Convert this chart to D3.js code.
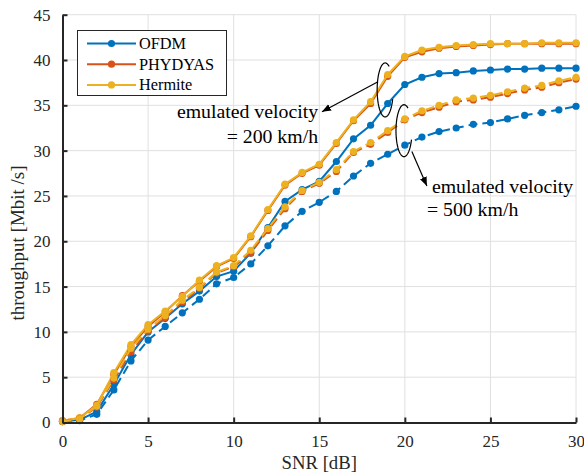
<!DOCTYPE html>
<html>
<head>
<meta charset="utf-8">
<script src="https://cdn.jsdelivr.net/npm/d3@7"></script>
<style>
  body { margin: 0; background: #fff; }
  svg { display: block; font-family: "Liberation Serif", "Times New Roman", serif; }
</style>
</head>
<body>
<div id="container"></div>
<script>
// SNR values [dB]
const snr = [0,1,2,3,4,5,6,7,8,9,10,11,12,13,14,15,16,17,18,19,20,21,22,23,24,25,26,27,28,29,30];

// throughput [Mbit/s], emulated velocity 200 km/h
const ofdm200     = [0.1,0.3,1.2,4.2,7.5,10.0,11.5,13.1,14.5,16.1,16.7,18.7,21.5,24.4,25.7,26.6,28.8,31.3,32.8,35.2,37.3,38.1,38.5,38.6,38.8,38.9,39.0,39.0,39.1,39.1,39.1];
const phydyas200  = [0.2,0.5,2.0,5.3,8.4,10.6,12.2,14.0,15.6,17.2,18.1,20.5,23.4,26.2,27.5,28.4,30.8,33.3,35.2,38.2,40.3,40.9,41.3,41.5,41.6,41.7,41.8,41.8,41.8,41.8,41.8];
const hermite200  = [0.2,0.5,1.9,5.5,8.6,10.8,12.3,13.9,15.7,17.3,18.2,20.6,23.5,26.3,27.6,28.5,30.9,33.4,35.4,38.4,40.4,41.1,41.4,41.6,41.7,41.8,41.8,41.8,41.9,41.9,41.9];

// throughput [Mbit/s], emulated velocity 500 km/h
const ofdm500     = [0.1,0.2,0.9,3.6,6.8,9.1,10.6,12.1,13.6,15.3,16.0,17.5,19.5,21.7,23.3,24.3,25.5,27.2,28.6,29.6,30.6,31.5,32.1,32.5,32.9,33.1,33.5,33.9,34.2,34.5,34.9];
const phydyas500  = [0.1,0.4,1.7,4.7,7.8,10.1,11.6,13.3,14.8,16.5,17.2,18.7,21.2,23.6,25.5,26.4,27.7,29.8,30.7,32.0,33.4,34.2,34.8,35.4,35.6,35.9,36.3,36.7,37.0,37.5,37.9];
const hermite500  = [0.1,0.4,1.8,4.9,8.2,10.3,11.8,13.5,14.9,16.6,17.3,19.0,21.4,23.8,25.6,26.5,27.9,29.9,30.9,32.2,33.5,34.4,35.0,35.6,35.8,36.1,36.5,36.9,37.2,37.7,38.1];

const xTicks = [0,5,10,15,20,25,30];
const yTicks = [0,5,10,15,20,25,30,35,40,45];

const legendNames = ["OFDM", "PHYDYAS", "Hermite"];
const colors = { OFDM: "#0072BD", PHYDYAS: "#D95319", Hermite: "#EDB120" };

const serif = "Liberation Serif, Times New Roman, serif";
const width = 584, height = 476;
const margin = { top: 14.7, right: 8, bottom: 53.5, left: 62.5 };

const svg = d3.select("#container").append("svg")
  .attr("width", width)
  .attr("height", height)
  .attr("font-family", serif);

const x = d3.scaleLinear().domain([0, 30]).range([margin.left, width - margin.right]);
const y = d3.scaleLinear().domain([0, 45]).range([height - margin.bottom, margin.top]);

// Grid
svg.append("g")
  .selectAll("line")
  .data(xTicks)
  .join("line")
    .attr("x1", d => x(d)).attr("x2", d => x(d))
    .attr("y1", y(0)).attr("y2", y(45))
    .attr("stroke", "#e0e0e0").attr("stroke-width", 1);

svg.append("g")
  .selectAll("line")
  .data(yTicks)
  .join("line")
    .attr("x1", x(0)).attr("x2", x(30))
    .attr("y1", d => y(d)).attr("y2", d => y(d))
    .attr("stroke", "#e0e0e0").attr("stroke-width", 1);

// Series
const series = [
  { name: "OFDM",    values: ofdm200,    dash: null },
  { name: "PHYDYAS", values: phydyas200, dash: null },
  { name: "Hermite", values: hermite200, dash: null },
  { name: "OFDM",    values: ofdm500,    dash: "9,5" },
  { name: "PHYDYAS", values: phydyas500, dash: "9,5" },
  { name: "Hermite", values: hermite500, dash: "9,5" }
];

const line = d3.line()
  .x((d, i) => x(snr[i]))
  .y(d => y(d));

series.forEach(s => {
  const g = svg.append("g");
  g.append("path")
    .datum(s.values)
    .attr("fill", "none")
    .attr("stroke", colors[s.name])
    .attr("stroke-width", 2)
    .attr("stroke-dasharray", s.dash)
    .attr("d", line);
  g.selectAll("circle")
    .data(s.values)
    .join("circle")
      .attr("cx", (d, i) => x(snr[i]))
      .attr("cy", d => y(d))
      .attr("r", 3.6)
      .attr("fill", colors[s.name]);
});

// Axes
const xAxis = svg.append("g")
  .attr("transform", `translate(0,${y(0)})`)
  .call(d3.axisBottom(x).tickValues(xTicks).tickSizeInner(-5).tickSizeOuter(0).tickPadding(12));

const yAxis = svg.append("g")
  .attr("transform", `translate(${x(0)},0)`)
  .call(d3.axisLeft(y).tickValues(yTicks).tickSizeInner(-5).tickSizeOuter(0).tickPadding(12));

[xAxis, yAxis].forEach(a => {
  a.attr("font-family", serif);
  a.select(".domain").attr("stroke", "#262626").attr("stroke-width", 2);
  a.selectAll(".tick line").attr("stroke", "#262626").attr("stroke-width", 2);
  a.selectAll(".tick text")
    .attr("font-family", serif)
    .attr("font-size", 17)
    .attr("fill", "#262626");
});

// Axis labels
svg.append("text")
  .attr("x", (x(0) + x(30)) / 2)
  .attr("y", 469)
  .attr("text-anchor", "middle")
  .attr("font-size", 18.7)
  .attr("fill", "#262626")
  .text("SNR [dB]");

svg.append("text")
  .attr("transform", "translate(24,243) rotate(-90)")
  .attr("text-anchor", "middle")
  .attr("font-size", 19)
  .attr("fill", "#262626")
  .text("throughput [Mbit /s]");

// Legend
const legend = svg.append("g");
legend.append("rect")
  .attr("x", 77.5).attr("y", 30.5)
  .attr("width", 149).attr("height", 65)
  .attr("fill", "#fff")
  .attr("stroke", "#262626")
  .attr("stroke-width", 1);

legendNames.forEach((name, i) => {
  const ly = 43.5 + i * 20.7;
  legend.append("line")
    .attr("x1", 87).attr("x2", 136)
    .attr("y1", ly).attr("y2", ly)
    .attr("stroke", colors[name]).attr("stroke-width", 2);
  legend.append("circle")
    .attr("cx", 111.5).attr("cy", ly).attr("r", 3.6)
    .attr("fill", colors[name]);
  legend.append("text")
    .attr("x", 139).attr("y", ly)
    .attr("dy", "0.33em")
    .attr("font-size", 16.3)
    .attr("fill", "#000")
    .text(name);
});

// Annotations
svg.append("defs").append("marker")
  .attr("id", "arrow")
  .attr("viewBox", "0 0 10 10")
  .attr("refX", 10).attr("refY", 5)
  .attr("markerWidth", 9).attr("markerHeight", 9)
  .attr("markerUnits", "userSpaceOnUse")
  .attr("orient", "auto")
  .append("path")
    .attr("d", "M0,1 L10,5 L0,9 Z")
    .attr("fill", "#000");

function openEllipse(cxData, cyData, rx, ry) {
  const cx = x(cxData), cy = y(cyData);
  const pts = d3.range(20, 305, 5).map(deg => {
    const t = deg * Math.PI / 180;
    return [cx + rx * Math.cos(t), cy + ry * Math.sin(t)];
  });
  svg.append("path")
    .attr("d", d3.line()(pts))
    .attr("fill", "none")
    .attr("stroke", "#000")
    .attr("stroke-width", 1.2);
}

openEllipse(18.85, 36.7, 8, 27);
openEllipse(19.95, 32.2, 8, 26);

svg.append("line")
  .attr("x1", x(18.43)).attr("y1", y(37.6))
  .attr("x2", x(15.16)).attr("y2", y(34.3))
  .attr("stroke", "#000").attr("stroke-width", 1.2)
  .attr("marker-end", "url(#arrow)");

svg.append("line")
  .attr("x1", x(20.41)).attr("y1", y(29.9))
  .attr("x2", x(21.29)).attr("y2", y(26.1))
  .attr("stroke", "#000").attr("stroke-width", 1.2)
  .attr("marker-end", "url(#arrow)");

const notes = [
  { text: "emulated velocity", sx: 14.93, sy: 33.6, anchor: "end" },
  { text: "= 200 km/h",        sx: 14.93, sy: 30.85, anchor: "end" },
  { text: "emulated velocity", sx: 21.58, sy: 25.35, anchor: "start" },
  { text: "= 500 km/h",        sx: 21.29, sy: 22.8, anchor: "start" }
];

svg.append("g")
  .selectAll("text")
  .data(notes)
  .join("text")
    .attr("x", d => x(d.sx))
    .attr("y", d => y(d.sy))
    .attr("text-anchor", d => d.anchor)
    .attr("font-size", 19.8)
    .attr("fill", "#000")
    .text(d => d.text);
</script>
</body>
</html>
